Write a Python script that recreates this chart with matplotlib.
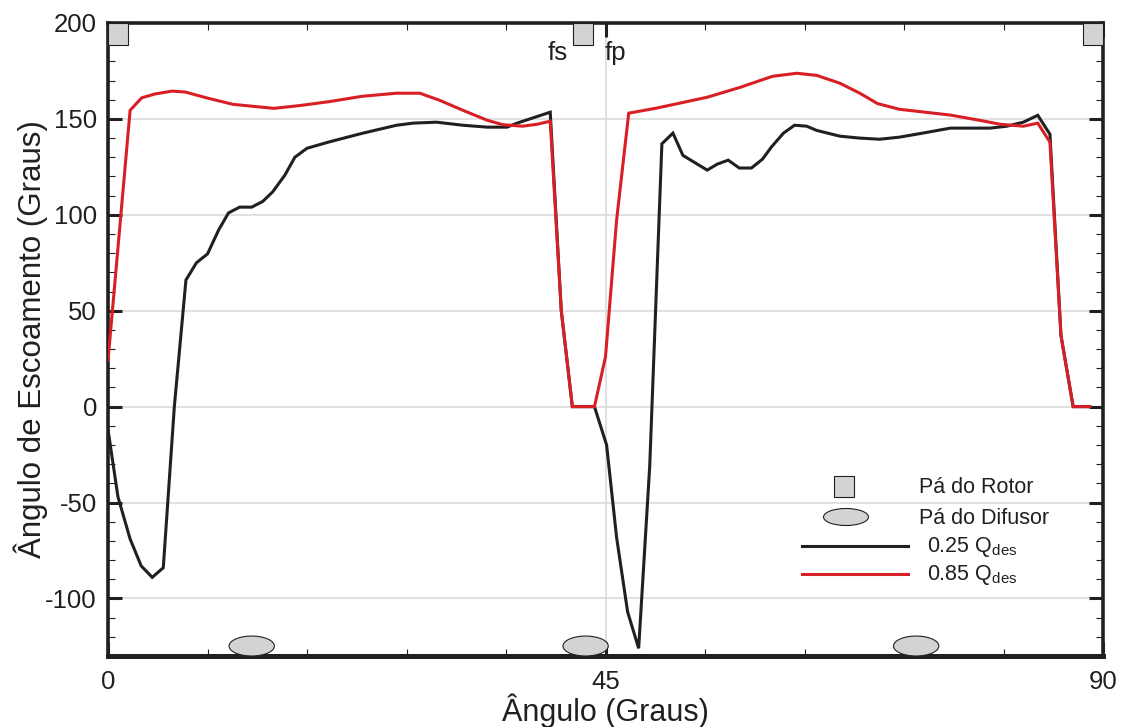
import matplotlib
matplotlib.use("Agg")
import matplotlib.pyplot as plt
from matplotlib.patches import Rectangle, Ellipse
from matplotlib.ticker import MultipleLocator

plt.rcParams['font.family'] = ['Liberation Sans', 'DejaVu Sans']
plt.rcParams['mathtext.fontset'] = 'custom'
plt.rcParams['mathtext.rm'] = 'Liberation Sans'
plt.rcParams['axes.unicode_minus'] = False

# ---------------- dados ----------------
# 0.25 Qdes (curva preta)
ang_025 = [0, 0.9, 2.0, 3.0, 4.0, 5.0, 6.0, 7.05, 8.0, 9.0, 10.0, 10.9, 11.9, 13.0,
           14.0, 14.9, 16.0, 16.9, 18.0, 20.0, 23.0, 26.1, 27.6, 29.7, 32.1, 34.3,
           36.1, 37.0, 40.0, 41.0, 42.0, 44.0, 45.1, 46.0, 47.0, 48.0, 49.0, 50.1,
           51.1, 52.0, 54.2, 55.1, 56.1, 57.1, 58.2, 59.2, 60.0, 61.1, 62.1, 63.2,
           64.1, 66.2, 68.0, 69.8, 71.6, 73.7, 76.2, 79.8, 81.3, 82.8, 84.1, 85.2,
           86.2, 87.3, 88.8]
esc_025 = [-12, -47, -69, -83, -89, -84, 0, 66, 75, 79.6, 92, 101, 104, 104,
           107, 112, 120.7, 130, 134.7, 138, 142.5, 146.7, 147.8, 148.3, 146.7, 145.7,
           145.7, 147.8, 153.5, 50, 0, 0, -20, -68, -107, -126, -31, 137,
           142.6, 131, 123.3, 126.4, 128.5, 124.4, 124.4, 129, 135.3, 142.6, 146.7, 146.2,
           144, 141, 140, 139.4, 140.5, 142.6, 145.2, 145.2, 146.2, 148.3, 151.9, 142,
           37, 0, 0]

# 0.85 Qdes (curva vermelha)
ang_085 = [0, 2.0, 3.05, 4.25, 5.8, 7.0, 8.9, 11.3, 15.0, 17.4, 20.0, 23.0, 26.1,
           28.2, 30.0, 32.1, 34.3, 35.7, 37.5, 38.8, 40.0, 41.0, 42.0, 44.0, 45.0,
           46.0, 47.1, 49.6, 54.2, 57.2, 60.1, 62.3, 64.1, 66.2, 68.0, 69.6, 71.6,
           76.2, 79.1, 80.7, 82.8, 84.1, 85.2, 86.2, 87.3, 88.8]
esc_085 = [24, 154.5, 161, 163, 164.5, 164, 161, 157.6, 155.5, 157, 159, 161.8, 163.4,
           163.4, 159.7, 154.5, 149.3, 147, 146.2, 147.2, 148.8, 50, 0, 0, 26,
           97, 153, 155.6, 161.3, 166.5, 172.2, 173.8, 172.7, 168.6, 163.4, 158, 155,
           152, 149, 147.2, 146.2, 147.8, 137.9, 37, 0, 0]

# posição das pás (graus)
pas_rotor = [0.9, 43.0, 89.1]
pas_difusor = [13.0, 43.2, 73.1]

preto = '#231f20'
vermelho = '#d91f26'
cinza = '#d1d3d4'

fig = plt.figure(figsize=(11.21, 7.27), dpi=100)
ax = fig.add_axes([108/1121, 1 - 656/727, 995/1121, 633/727])

ax.plot(ang_025, esc_025, color=preto, lw=2.2, zorder=3, solid_joinstyle='miter')
ax.plot(ang_085, esc_085, color=vermelho, lw=2.2, zorder=4, solid_joinstyle='miter')

# pás do rotor (quadrados no topo) e do difusor (elipses na base)
for xr in pas_rotor:
    ax.add_patch(Rectangle((xr - 0.9, 188.5), 1.8, 11.5, facecolor=cinza,
                           edgecolor=preto, lw=0.8, zorder=5, clip_on=False))
for xd in pas_difusor:
    ax.add_patch(Ellipse((xd, -124.8), 4.1, 10.4, facecolor=cinza,
                         edgecolor=preto, lw=0.8, zorder=5))

ax.text(41.6, 180.5, 'fs', fontsize=18.5, ha='right', va='baseline', color=preto)
ax.text(44.9, 180.5, 'fp', fontsize=18.5, ha='left', va='baseline', color=preto)

ax.set_xlim(0, 90)
ax.set_ylim(-130, 200)
ax.set_xticks([0, 45, 90])
ax.xaxis.set_minor_locator(MultipleLocator(9))
ax.set_yticks([-100, -50, 0, 50, 100, 150, 200])
ax.yaxis.set_minor_locator(MultipleLocator(10))

ax.grid(True, which='major', color='#d9d9d9', lw=1.1, zorder=0)
ax.set_axisbelow(True)

ax.tick_params(which='both', direction='in', top=True, right=True, colors=preto,
               labelsize=18.5)
ax.tick_params(which='major', length=10, width=2.2)
ax.tick_params(which='minor', length=5, width=0.8)
ax.tick_params(axis='y', pad=8)
ax.tick_params(axis='x', pad=10)

for lado in ['left', 'right', 'top']:
    ax.spines[lado].set_linewidth(2.6)
    ax.spines[lado].set_color(preto)
ax.spines['bottom'].set_linewidth(3.6)
ax.spines['bottom'].set_color(preto)

ax.set_xlabel('Ângulo (Graus)', fontsize=22, color=preto, va='baseline')
ax.xaxis.set_label_coords(0.5, -65/633)
ax.set_ylabel('Ângulo de Escoamento (Graus)', fontsize=22.5, color=preto)
ax.yaxis.set_label_coords(-60/995, 0.5)

# legenda desenhada à mão (posições em pixels da figura original)
def px(x, y):
    return ((x - 108) / 995, (656 - y) / 633)

tr = ax.transAxes
x0, y0 = px(834, 497)
ax.add_patch(Rectangle((x0, y0), 20/995, 21/633, transform=tr, facecolor=cinza,
                       edgecolor=preto, lw=0.8, clip_on=False, zorder=6))
ax.add_patch(Ellipse(px(846, 517), 45/995, 17/633, transform=tr, facecolor=cinza,
                     edgecolor=preto, lw=0.8, clip_on=False, zorder=6))
xa, ya = px(802, 546)
xb, _ = px(908, 546)
ax.plot([xa, xb], [ya, ya], color=preto, lw=2.2, transform=tr, clip_on=False)
xa, ya = px(802, 574)
ax.plot([xa, xb], [ya, ya], color=vermelho, lw=2.2, transform=tr, clip_on=False)

rotulos = [('Pá do Rotor', 919, 493), ('Pá do Difusor', 919, 524),
           ('0.25 Q$_{\\mathrm{des}}$', 927, 552), ('0.85 Q$_{\\mathrm{des}}$', 927, 580)]
for txt, x, y in rotulos:
    ax.text(*px(x, y), txt, transform=tr, fontsize=15.5, ha='left', va='baseline',
            color=preto)

fig.savefig('out.png', dpi=100)
